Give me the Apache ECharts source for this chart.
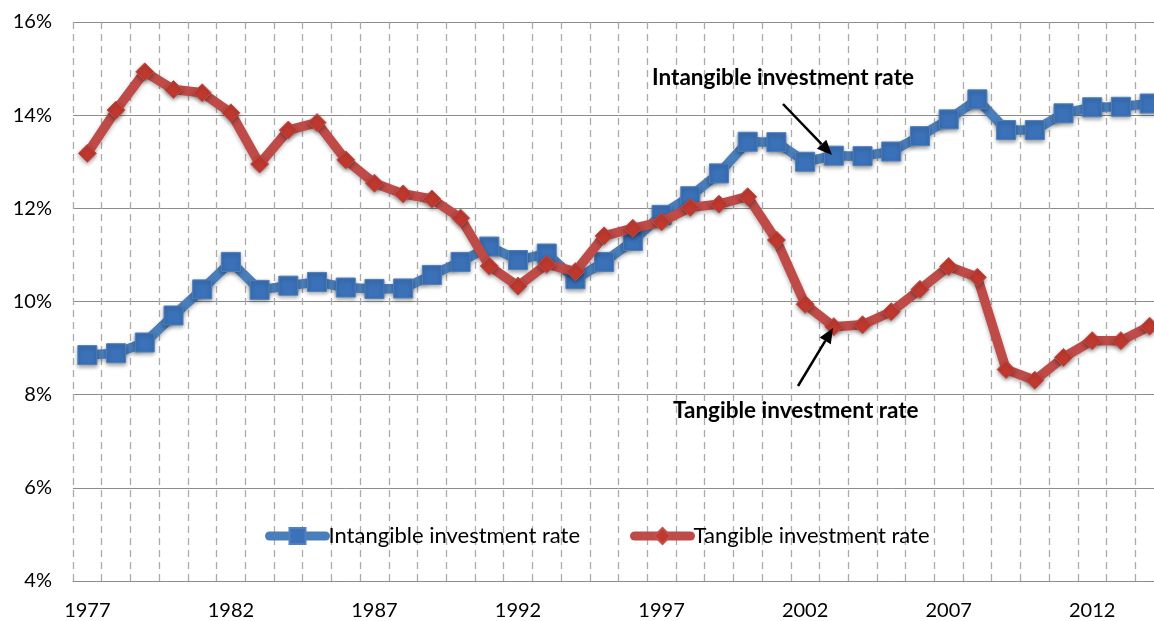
<!DOCTYPE html>
<html>
<head>
<meta charset="utf-8">
<script src="https://cdn.jsdelivr.net/npm/echarts@6/dist/echarts.min.js"></script>
<style>
html, body { margin: 0; padding: 0; background: #fff; overflow: hidden; }
/* the original figure is cut off on the right, so the canvas is a bit wider than the window */
#chart { width: 1170px; height: 621px; }
</style>
</head>
<body>
<div id="chart"></div>
<script>
var years = [];
for (var y = 1977; y <= 2014; y++) { years.push(String(y)); }

// intangible investment rate, % of value added
var intangible = [8.85, 8.89, 9.12, 9.70, 10.26, 10.85, 10.25, 10.34, 10.42, 10.30,
	10.27, 10.28, 10.57, 10.85, 11.18, 10.89, 11.03, 10.48, 10.85, 11.30,
	11.86, 12.26, 12.75, 13.43, 13.42, 13.00, 13.13, 13.12, 13.22, 13.55,
	13.91, 14.34, 13.68, 13.68, 14.04, 14.17, 14.18, 14.25];

// tangible investment rate
var tangible = [13.18, 14.11, 14.93, 14.55, 14.48, 14.05, 12.95, 13.68, 13.84, 13.04,
	12.54, 12.31, 12.20, 11.79, 10.76, 10.33, 10.80, 10.64, 11.41, 11.57,
	11.71, 12.02, 12.09, 12.25, 11.32, 9.94, 9.46, 9.50, 9.78, 10.26,
	10.75, 10.52, 8.54, 8.31, 8.80, 9.16, 9.16, 9.47];

var yTicks = [4, 6, 8, 10, 12, 14, 16];

var FONT = 'Lato';
var chart = echarts.init(document.getElementById('chart'));

function arrow(x1, y1, x2, y2){
	var ang = Math.atan2(y2 - y1, x2 - x1);
	var L = 15, W = 6.5;
	var bx = x2 - L * Math.cos(ang), by = y2 - L * Math.sin(ang);
	var px = -Math.sin(ang) * W, py = Math.cos(ang) * W;
	return [
		{ type: 'line', shape: { x1: x1, y1: y1, x2: bx, y2: by }, style: { stroke: '#000', lineWidth: 2.5 }, z: 100 },
		{ type: 'polygon', shape: { points: [[x2, y2], [bx + px, by + py], [bx - px, by - py]] }, style: { fill: '#000' }, z: 100 }
	];
}

var option = {
	animation: false,
	textStyle: { fontFamily: FONT },
	grid: { left: 73, right: 6, top: 22, bottom: 40, containLabel: false },
	legend: {
		left: 260,
		top: 520,
		itemWidth: 56,
		itemHeight: 20,
		itemGap: 50,
		lineStyle: { width: 9, cap: 'round' },
		textStyle: { fontFamily: FONT, fontSize: 22, color: '#000', padding: [0, 0, 0, -2] },
		data: ['Intangible investment rate', 'Tangible investment rate']
	},
	xAxis: {
		type: 'category',
		data: years,
		boundaryGap: true,
		axisLine: { show: true, lineStyle: { color: '#8c8c8c', width: 1 } },
		axisTick: { show: false },
		axisLabel: { interval: 4, color: '#000', fontSize: 20, fontFamily: FONT, margin: 20 },
		splitLine: { show: true, interval: 0, lineStyle: { color: '#ababab', type: [7, 5], width: 1.3 } }
	},
	yAxis: {
		type: 'value',
		min: yTicks[0],
		max: yTicks[yTicks.length - 1],
		interval: 2,
		axisLine: { show: false },
		axisTick: { show: false },
		axisLabel: { color: '#000', fontSize: 20, fontFamily: FONT, margin: 21, formatter: '{value}%' },
		splitLine: { show: true, lineStyle: { color: '#8c8c8c', width: 1 } }
	},
	series: [
		{
			name: 'Intangible investment rate',
			type: 'line',
			data: intangible,
			symbol: 'rect',
			symbolSize: 19,
			showSymbol: true,
			showAllSymbol: true,
			itemStyle: { color: '#3a71b8', borderColor: '#4f81bd', borderWidth: 1, shadowBlur: 4, shadowColor: 'rgba(0,0,0,0.35)', shadowOffsetY: 2 },
			lineStyle: { color: '#4a7ebb', width: 9.5, shadowBlur: 4, shadowColor: 'rgba(0,0,0,0.3)', shadowOffsetY: 2 },
			z: 3
		},
		{
			name: 'Tangible investment rate',
			type: 'line',
			data: tangible,
			symbol: 'diamond',
			symbolSize: 18,
			showSymbol: true,
			showAllSymbol: true,
			itemStyle: { color: '#c0392f', borderColor: '#c0504d', borderWidth: 1, shadowBlur: 4, shadowColor: 'rgba(0,0,0,0.35)', shadowOffsetY: 2 },
			lineStyle: { color: '#be4b48', width: 9.5, shadowBlur: 4, shadowColor: 'rgba(0,0,0,0.3)', shadowOffsetY: 2 },
			z: 4
		}
	],
	graphic: [
		{ type: 'text', left: 652, top: 66, style: { text: 'Intangible investment rate', font: 'bold 22.5px ' + FONT, fill: '#000' }, z: 100 },
		{ type: 'text', left: 673, top: 399, style: { text: 'Tangible investment rate', font: 'bold 22.5px ' + FONT, fill: '#000' }, z: 100 }
	].concat(arrow(783, 104, 832, 155)).concat(arrow(798, 386, 833, 328))
};

chart.setOption(option);
</script>
</body>
</html>
